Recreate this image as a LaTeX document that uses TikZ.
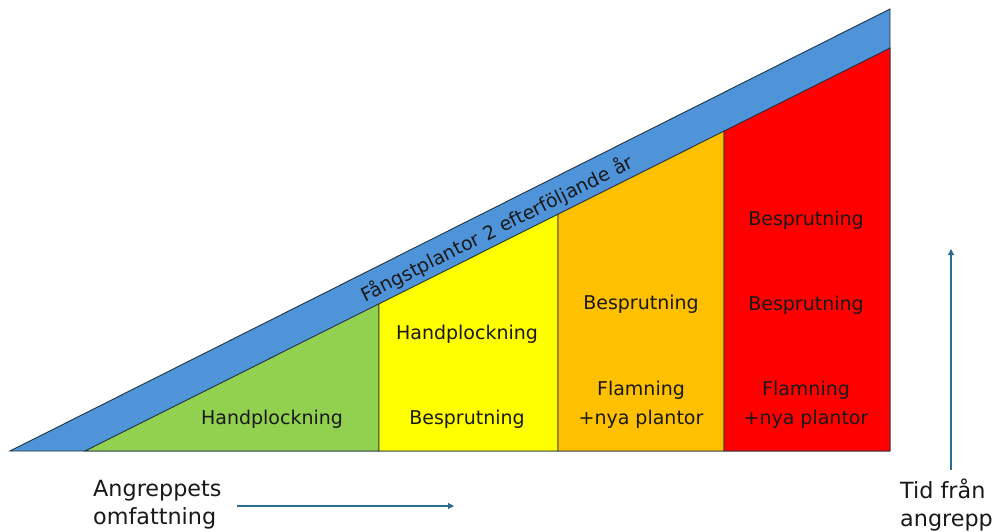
\documentclass[tikz,border=0pt]{standalone}
\usepackage{fontspec}
\setmainfont{DejaVu Sans}
\usetikzlibrary{arrows.meta}
\definecolor{bandblue}{HTML}{4F94D8}
\definecolor{cgreen}{HTML}{92D050}
\definecolor{cyellow}{HTML}{FFFF00}
\definecolor{corange}{HTML}{FFC000}
\definecolor{cred}{HTML}{FF0000}
\definecolor{edgec}{HTML}{1F3444}
\definecolor{arrowc}{HTML}{2F6B90}
\begin{document}
\begin{tikzpicture}[x=1pt,y=-1pt,
  region/.style={draw=edgec,line width=0.9pt,line join=miter},
  lbl/.style={font=\fontsize{19}{29}\selectfont,text=black!90,align=center,inner sep=0pt},
  big/.style={font=\fontsize{22.3}{28}\selectfont,text=black!90,align=left,inner sep=0pt,anchor=west},
  axisarrow/.style={draw=arrowc,line width=1.1pt,-{Triangle[length=6pt,width=6pt]}}]
\useasboundingbox (0,0) rectangle (994,532);
\fill[white] (0,0) rectangle (994,532);
% outer blue band triangle
\draw[region,fill=bandblue] (10,451) -- (890,9) -- (890,451) -- cycle;
% columns
\draw[region,fill=cgreen] (85,451) -- (379,451) -- (379,303.8) -- cycle;
\draw[region,fill=cyellow] (379,451) -- (558,451) -- (558,214.2) -- (379,303.8) -- cycle;
\draw[region,fill=corange] (558,451) -- (724,451) -- (724,131.1) -- (558,214.2) -- cycle;
\draw[region,fill=cred] (724,451) -- (890,451) -- (890,48) -- (724,131.1) -- cycle;
% band label
\node[lbl,rotate=26.66] (band) at (497,229) {Fångstplantor 2 efterföljande år};
% column labels
\node[lbl] (g1) at (272,419) {Handplockning};
\node[lbl] (y1) at (467,334) {Handplockning};
\node[lbl] (y2) at (467,419) {Besprutning};
\node[lbl] (o1) at (641,304) {Besprutning};
\node[lbl] (o2) at (641,404.5) {Flamning\\+nya plantor};
\node[lbl] (r1) at (806,220) {Besprutning};
\node[lbl] (r2) at (806,305) {Besprutning};
\node[lbl] (r3) at (806,404.5) {Flamning\\+nya plantor};
% axis labels
\node[big] (xlab) at (93,505) {Angreppets\\omfattning};
\node[big] (ylab) at (900,505) {Tid från\\angrepp};
% axis arrows
\coordinate (xs) at (237,506);
\coordinate (xe) at (454,506);
\coordinate (ys) at (951,470);
\coordinate (ye) at (951,249);
\draw[axisarrow] (xs) -- (xe);
\draw[axisarrow] (ys) -- (ye);
\end{tikzpicture}
\end{document}
